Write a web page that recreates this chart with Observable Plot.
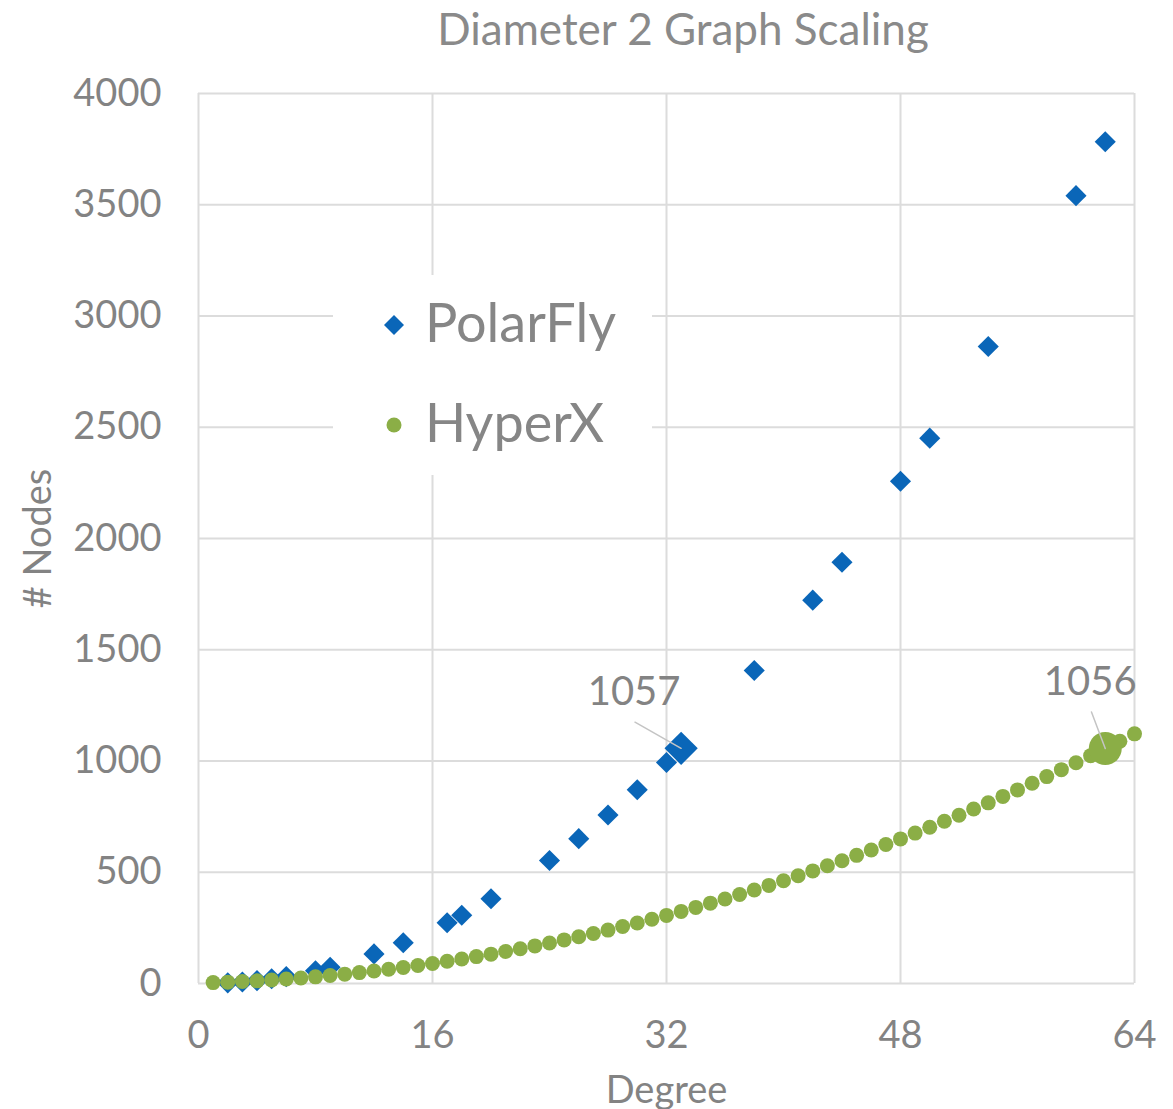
<!DOCTYPE html>
<html>
<head>
<meta charset="utf-8">
<script src="https://cdn.jsdelivr.net/npm/d3@7"></script>
<script src="https://cdn.jsdelivr.net/npm/@observablehq/plot@0.6"></script>
<style>
  body { margin: 0; background: #fff; font-family: Lato, "Open Sans", sans-serif; }
  #wrap { position: relative; width: 1173px; }
  #title { height: 60px; line-height: 56px; text-align: center; font-size: 44px; color: #8a8a8a;
           padding-left: 193px; box-sizing: border-box; white-space: nowrap; }
  #legend { position: absolute; left: 333px; top: 275px; width: 319px; height: 200px; background: #fff; }
  .row { position: absolute; left: 0; height: 100px; display: flex; align-items: center; }
  .row svg { margin-left: 50px; }
  .row span { margin-left: 20px; font-size: 54px; color: #868686; position: relative; top: -4px; }
</style>
</head>
<body>
<div id="wrap">
  <div id="title">Diameter 2 Graph Scaling</div>
  <div id="chart"></div>
  <div id="legend"></div>
</div>
<script>
// PolarFly: switch degree and number of nodes
const polarFlyDegree = [2, 3, 4, 5, 6, 8, 9, 12, 14, 17, 18, 20, 24, 26, 28, 30, 32, 33, 38, 42, 44, 48, 50, 54, 60, 62];
const polarFlyNodes  = [3, 7, 13, 21, 31, 57, 73, 133, 183, 273, 307, 381, 553, 651, 757, 871, 993, 1057, 1407, 1723, 1893, 2257, 2451, 2863, 3541, 3783];

// HyperX: switch degree and number of nodes
const hyperXDegree = [1, 2, 3, 4, 5, 6, 7, 8, 9, 10, 11, 12, 13, 14, 15, 16, 17, 18, 19, 20, 21, 22, 23, 24, 25, 26, 27, 28, 29, 30, 31, 32,
                      33, 34, 35, 36, 37, 38, 39, 40, 41, 42, 43, 44, 45, 46, 47, 48, 49, 50, 51, 52, 53, 54, 55, 56, 57, 58, 59, 60, 61, 62, 63, 64];
const hyperXNodes  = [4, 6, 9, 12, 16, 20, 25, 30, 36, 42, 49, 56, 64, 72, 81, 90, 100, 110, 121, 132, 144, 156, 169, 182, 196, 210, 225, 240, 256, 272, 289, 306,
                      324, 342, 361, 380, 400, 420, 441, 462, 484, 506, 529, 552, 576, 600, 625, 650, 676, 702, 729, 756, 784, 812, 841, 870, 900, 930, 961, 992, 1024, 1056, 1089, 1122];

// Highlighted configurations
const polarFlyHighlight = 1057;
const hyperXHighlight = 1056;

// Axis ticks
const xTicks = [0, 16, 32, 48, 64];
const yTicks = [0, 500, 1000, 1500, 2000, 2500, 3000, 3500, 4000];

const seriesNames = ["PolarFly", "HyperX"];
const blue = "#0a66b8";
const green = "#8bae46";
const grid = "#dcdcdc";
const textGray = "#838383";

const polarFly = polarFlyDegree.map((d, i) => ({degree: d, nodes: polarFlyNodes[i]}));
const hyperX = hyperXDegree.map((d, i) => ({degree: d, nodes: hyperXNodes[i]}));
const pfHi = polarFly.filter(d => d.nodes === polarFlyHighlight);
const hxHi = hyperX.filter(d => d.nodes === hyperXHighlight);

// straight leader line for the value callouts
const line = {draw(ctx, l) { ctx.moveTo(0, 0); ctx.lineTo(0, -l); }};

const chart = Plot.plot({
  width: 1173,
  height: 1049,
  marginTop: 33,
  marginBottom: 126,
  marginLeft: 198,
  marginRight: 39,
  style: {fontFamily: "Lato, 'Open Sans', sans-serif", background: "#fff"},
  x: {domain: [0, 64]},
  y: {domain: [0, 4000]},
  marks: [
    Plot.gridX(xTicks, {stroke: grid, strokeOpacity: 1, strokeWidth: 2}),
    Plot.gridY(yTicks, {stroke: grid, strokeOpacity: 1, strokeWidth: 2}),
    Plot.axisY(yTicks, {tickSize: 0, tickPadding: 37, fontSize: 38, fill: textGray, label: null, tickFormat: d => String(d)}),
    Plot.axisX(xTicks, {tickSize: 0, tickPadding: 38, fontSize: 38, fill: textGray, label: null, tickFormat: d => String(d)}),
    Plot.dot(polarFly, {x: "degree", y: "nodes", symbol: "diamond2", r: 9.5, fill: blue}),
    Plot.dot(pfHi, {x: "degree", y: "nodes", symbol: "diamond2", r: 15, fill: blue}),
    Plot.dot(hyperX, {x: "degree", y: "nodes", r: 7.5, fill: green}),
    Plot.dot(hxHi, {x: "degree", y: "nodes", r: 16.5, fill: green}),
    Plot.vector(pfHi, {x: "degree", y: "nodes", length: 53, rotate: -60.5, anchor: "start", shape: line, stroke: "#c4c4c4", strokeWidth: 1.5}),
    Plot.vector(hxHi, {x: "degree", y: "nodes", length: 39, rotate: -20.7, anchor: "start", shape: line, stroke: "#c4c4c4", strokeWidth: 1.5}),
    Plot.text(pfHi, {x: "degree", y: "nodes", text: d => String(d.nodes), dx: -47, dy: -56, fontSize: 40, fill: textGray}),
    Plot.text(hxHi, {x: "degree", y: "nodes", text: d => String(d.nodes), dx: -15, dy: -66, fontSize: 40, fill: textGray}),
    Plot.text(["Degree"], {frameAnchor: "bottom", dy: 119, fontSize: 38, fill: textGray}),
    Plot.text(["# Nodes"], {frameAnchor: "left", dx: -160, rotate: -90, textAnchor: "middle", fontSize: 38, fill: textGray})
  ]
});
document.getElementById("chart").appendChild(chart);

// Legend
const legend = document.getElementById("legend");
seriesNames.forEach((name, i) => {
  const row = document.createElement("div");
  row.className = "row";
  row.style.top = (i * 100) + "px";
  const shape = i === 0
    ? `<svg width="22" height="22" viewBox="-11 -11 22 22"><path d="M0,-10L10,0L0,10L-10,0Z" fill="${blue}"/></svg>`
    : `<svg width="22" height="22" viewBox="-11 -11 22 22"><circle r="7.5" fill="${green}"/></svg>`;
  row.innerHTML = shape + `<span>${name}</span>`;
  legend.appendChild(row);
});
</script>
</body>
</html>
